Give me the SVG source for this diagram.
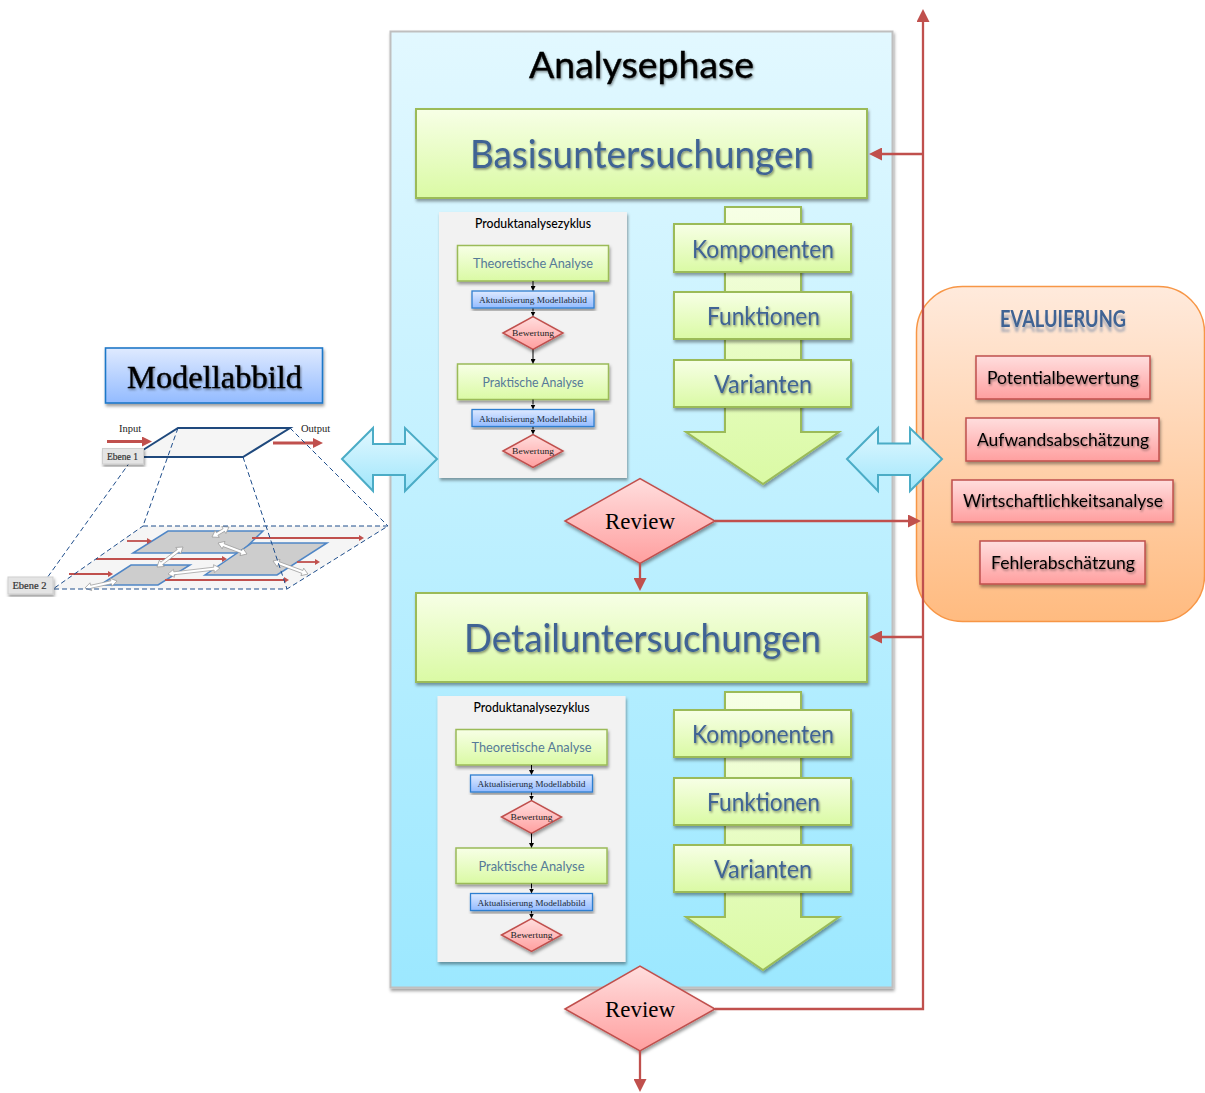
<svg xmlns="http://www.w3.org/2000/svg" xmlns:xlink="http://www.w3.org/1999/xlink" width="1205" height="1093" viewBox="0 0 1205 1093">
<defs>
<linearGradient id="gPanel" x1="0" y1="0" x2="0" y2="1"><stop offset="0" stop-color="#e2f8ff"/><stop offset="1" stop-color="#9ce8ff"/></linearGradient>
<linearGradient id="gGreen" x1="0" y1="0" x2="0" y2="1"><stop offset="0" stop-color="#f7ffe6"/><stop offset="1" stop-color="#dafaa4"/></linearGradient>
<linearGradient id="gRed" x1="0" y1="0" x2="0" y2="1"><stop offset="0" stop-color="#ffdede"/><stop offset="1" stop-color="#ff9f9f"/></linearGradient>
<linearGradient id="gBlue" x1="0" y1="0" x2="0" y2="1"><stop offset="0" stop-color="#dfeaff"/><stop offset="1" stop-color="#93bbff"/></linearGradient>
<linearGradient id="gOrange" x1="0" y1="0" x2="0" y2="1"><stop offset="0" stop-color="#ffeadc"/><stop offset="1" stop-color="#ffbb80"/></linearGradient>
<linearGradient id="gCyan" x1="0" y1="0" x2="0" y2="1"><stop offset="0" stop-color="#e2f8ff"/><stop offset="1" stop-color="#a0e6fb"/></linearGradient>
<filter id="sh" x="-10%" y="-10%" width="120%" height="125%"><feDropShadow dx="1" dy="2.5" stdDeviation="1.8" flood-color="#000" flood-opacity="0.38"/></filter>
<filter id="ts" x="-5%" y="-20%" width="110%" height="150%"><feDropShadow dx="1" dy="1.5" stdDeviation="1" flood-color="#000" flood-opacity="0.45"/></filter>
<filter id="refl" x="-5%" y="-20%" width="110%" height="170%"><feDropShadow dx="0" dy="5" stdDeviation="1.2" flood-color="#3f6494" flood-opacity="0.4"/></filter>
<marker id="ar" markerUnits="userSpaceOnUse" markerWidth="13" markerHeight="13" viewBox="0 0 13 13" refX="1" refY="6.500" orient="auto"><path d="M0 0L13 6.500L0 13Z" fill="#c0504d"/></marker>
<marker id="arb" markerUnits="userSpaceOnUse" markerWidth="5" markerHeight="5" viewBox="0 0 5 5" refX="0" refY="2.500" orient="auto"><path d="M0 0L5 2.500L0 5Z" fill="#000"/></marker>
<marker id="ars" markerUnits="userSpaceOnUse" markerWidth="5" markerHeight="6" viewBox="0 0 5 6" refX="0" refY="3" orient="auto"><path d="M0 0L5 3L0 6Z" fill="#c0504d"/></marker>
<marker id="arm" markerUnits="userSpaceOnUse" markerWidth="10" markerHeight="10" viewBox="0 0 10 10" refX="0" refY="5" orient="auto"><path d="M0 0L10 5L0 10Z" fill="#c0504d"/></marker>
</defs>
<style>
.green{fill:url(#gGreen);stroke:#9bbb59;stroke-width:2;filter:url(#sh)}
.greenS{fill:url(#gGreen);stroke:#9bbb59;stroke-width:1.500;filter:url(#sh)}
.red{fill:url(#gRed);stroke:#c0504d;stroke-width:1.500;filter:url(#sh)}
.blue{fill:url(#gBlue);stroke:#2f7fd0;stroke-width:1.300;filter:url(#sh)}
.cyan{fill:url(#gCyan);stroke:#4bacc6;stroke-width:2}
.card{fill:#f2f2f2;filter:url(#sh)}
.t{font-family:"Lato","Carlito","Liberation Sans",sans-serif;text-anchor:middle}
.s{font-family:"Liberation Serif","Noto Serif",serif;text-anchor:middle}
.bl{fill:#3f6494;filter:url(#ts)}
.k{fill:#000;filter:url(#ts)}
.big{font-size:39px}
.mid{font-size:24.500px}
.sm{font-size:13.500px;fill:#567a98}
.hd{font-size:12.500px;fill:#000;font-weight:500}
.ak{font-size:9px;fill:#1a2a3a}
.bw{font-size:9px;fill:#222}
.ev{font-size:18px}
.rv{font-size:23px;fill:#000}
.con{fill:none;stroke:#c0504d;stroke-width:2.300}
.cb{fill:none;stroke:#000;stroke-width:1}
.dash{fill:none;stroke:#1f4e8c;stroke-width:1;stroke-dasharray:5 3}
.pl{fill:none;stroke:#1f497d;stroke-width:2}
.quad{fill:#cdcdcd;stroke:#4f86c6;stroke-width:1.500}
.wa{fill:#fff;stroke:#9a9a9a;stroke-width:.7}
.rl{fill:none;stroke:#c0504d;stroke-width:1.800}
.tag{fill:#e4e4e4;stroke:#cfcfcf;stroke-width:1;filter:url(#sh)}
</style>

<g id="evaluierung-bg"><rect x="916.500" y="286.500" width="288" height="335" rx="46" fill="url(#gOrange)" stroke="#f79646" stroke-width="1.500"/></g>

<g id="analysephase">
<rect x="390.500" y="31.500" width="502" height="956" fill="url(#gPanel)" stroke="#bfbfbf" stroke-width="2" filter="url(#sh)"/>
<text class="t k" x="641.500" y="78" font-size="37" stroke="#000" stroke-width=".4" textLength="225" lengthAdjust="spacingAndGlyphs">Analysephase</text>
</g>

<g id="basisuntersuchungen"><rect class="green" x="416" y="109" width="451" height="89"/><text class="t bl big" x="642" y="168" textLength="344" lengthAdjust="spacingAndGlyphs">Basisuntersuchungen</text></g>

<g id="zyklus-1">
<rect class="card" x="439" y="212" width="188" height="266"/>
<text class="t hd" x="533" y="228" textLength="116" lengthAdjust="spacingAndGlyphs">Produktanalysezyklus</text>
<rect class="greenS" x="457.500" y="245.500" width="151" height="35.500"/><text class="t sm" x="533" y="268" textLength="120" lengthAdjust="spacingAndGlyphs">Theoretische Analyse</text>
<rect class="blue" x="472" y="291" width="122" height="17"/><text class="s ak" x="533" y="303" textLength="108" lengthAdjust="spacingAndGlyphs">Aktualisierung Modellabbild</text>
<path class="red" d="M503 333L533 316.500L563 333L533 349.500Z"/><text class="s bw" x="533" y="336" textLength="42" lengthAdjust="spacingAndGlyphs">Bewertung</text>
<rect class="greenS" x="457.500" y="364" width="151" height="35.500"/><text class="t sm" x="533" y="387" textLength="101" lengthAdjust="spacingAndGlyphs">Praktische Analyse</text>
<rect class="blue" x="472" y="409.500" width="122" height="17"/><text class="s ak" x="533" y="421.500" textLength="108" lengthAdjust="spacingAndGlyphs">Aktualisierung Modellabbild</text>
<path class="red" d="M503 451L533 434.500L563 451L533 467.500Z"/><text class="s bw" x="533" y="454" textLength="42" lengthAdjust="spacingAndGlyphs">Bewertung</text>
</g>

<g id="zyklus-2">
<rect class="card" x="437.500" y="696" width="188" height="266"/>
<text class="t hd" x="531.500" y="712" textLength="116" lengthAdjust="spacingAndGlyphs">Produktanalysezyklus</text>
<rect class="greenS" x="456" y="729.500" width="151" height="35.500"/><text class="t sm" x="531.500" y="752" textLength="120" lengthAdjust="spacingAndGlyphs">Theoretische Analyse</text>
<rect class="blue" x="470.500" y="775" width="122" height="17"/><text class="s ak" x="531.500" y="787" textLength="108" lengthAdjust="spacingAndGlyphs">Aktualisierung Modellabbild</text>
<path class="red" d="M501.500 817L531.500 800.500L561.500 817L531.500 833.500Z"/><text class="s bw" x="531.500" y="820" textLength="42" lengthAdjust="spacingAndGlyphs">Bewertung</text>
<rect class="greenS" x="456" y="848" width="151" height="35.500"/><text class="t sm" x="531.500" y="871" textLength="106" lengthAdjust="spacingAndGlyphs">Praktische Analyse</text>
<rect class="blue" x="470.500" y="893.500" width="122" height="17"/><text class="s ak" x="531.500" y="905.500" textLength="108" lengthAdjust="spacingAndGlyphs">Aktualisierung Modellabbild</text>
<path class="red" d="M501.500 935L531.500 918.500L561.500 935L531.500 951.500Z"/><text class="s bw" x="531.500" y="938" textLength="42" lengthAdjust="spacingAndGlyphs">Bewertung</text>
</g>

<g id="pfeil-1"><path class="green" d="M725 207H801V432H839L763 484L686 432H725Z"/></g>
<g id="komponenten-1"><rect class="green" x="674" y="224" width="177" height="48"/><text class="t bl mid" x="763" y="258" textLength="142" lengthAdjust="spacingAndGlyphs">Komponenten</text></g>
<g id="funktionen-1"><rect class="green" x="674" y="292" width="177" height="47"/><text class="t bl mid" x="763.500" y="325" textLength="113" lengthAdjust="spacingAndGlyphs">Funktionen</text></g>
<g id="varianten-1"><rect class="green" x="674" y="360" width="177" height="47"/><text class="t bl mid" x="763" y="393" textLength="98" lengthAdjust="spacingAndGlyphs">Varianten</text></g>

<g id="detailuntersuchungen"><rect class="green" x="416" y="593" width="451" height="89"/><text class="t bl big" x="642.500" y="652" textLength="357" lengthAdjust="spacingAndGlyphs">Detailuntersuchungen</text></g>

<g id="pfeil-2"><path class="green" d="M725 692H801V917H839L763 970L686 917H725Z"/></g>
<g id="komponenten-2"><rect class="green" x="674" y="710" width="177" height="47"/><text class="t bl mid" x="763" y="743" textLength="142" lengthAdjust="spacingAndGlyphs">Komponenten</text></g>
<g id="funktionen-2"><rect class="green" x="674" y="778" width="177" height="47"/><text class="t bl mid" x="763.500" y="811" textLength="113" lengthAdjust="spacingAndGlyphs">Funktionen</text></g>
<g id="varianten-2"><rect class="green" x="674" y="845" width="177" height="47"/><text class="t bl mid" x="763" y="878" textLength="98" lengthAdjust="spacingAndGlyphs">Varianten</text></g>

<g id="review-1"><path class="red" d="M565 521L640 478.500L715 521L640 563.500Z"/><text class="s rv" x="640" y="529" textLength="70" lengthAdjust="spacingAndGlyphs">Review</text></g>
<g id="review-2"><path class="red" d="M565 1009L640 966L715 1009L640 1051Z"/><text class="s rv" x="640" y="1017" textLength="70" lengthAdjust="spacingAndGlyphs">Review</text></g>

<g id="connectors">
<path class="con" d="M715 1009H923V21" marker-end="url(#ar)"/>
<path class="con" d="M923 154H881" marker-end="url(#ar)"/>
<path class="con" d="M923 637L881 637" marker-end="url(#ar)"/>
<path class="con" d="M715 521H909" marker-end="url(#ar)"/>
<path class="con" d="M640 563V579" marker-end="url(#ar)"/>
<path class="con" d="M640 1051V1080" marker-end="url(#ar)"/>
<path class="cb" d="M533 281V286" marker-end="url(#arb)"/>
<path class="cb" d="M533 308.500V311.500" marker-end="url(#arb)"/>
<path class="cb" d="M533 349.500V359" marker-end="url(#arb)"/>
<path class="cb" d="M533 399.500V404.500" marker-end="url(#arb)"/>
<path class="cb" d="M533 427V429.500" marker-end="url(#arb)"/>
<path class="cb" d="M531.500 765V770" marker-end="url(#arb)"/>
<path class="cb" d="M531.500 792.500V795.500" marker-end="url(#arb)"/>
<path class="cb" d="M531.500 833.500V843" marker-end="url(#arb)"/>
<path class="cb" d="M531.500 883.500V888.500" marker-end="url(#arb)"/>
<path class="cb" d="M531.500 911V913.500" marker-end="url(#arb)"/>
</g>

<g id="doppelpfeil-links"><path class="cyan" d="M342 459L373 428V444H405V428L437 459L405 491V475H373V491Z"/></g>
<g id="doppelpfeil-rechts"><path class="cyan" d="M847 459L878 428V443.500H910V428L942 459L910 491V475H878V491Z"/></g>

<g id="evaluierung-titel"><text class="t" x="1063" y="327" font-size="22" font-weight="bold" fill="#3f6494" filter="url(#refl)" textLength="126" lengthAdjust="spacingAndGlyphs">EVALUIERUNG</text></g>
<g id="potentialbewertung"><rect class="red" x="976" y="356" width="174" height="43"/><text class="t k ev" x="1063" y="384" textLength="152" lengthAdjust="spacingAndGlyphs">Potentialbewertung</text></g>
<g id="aufwandsabschaetzung"><rect class="red" x="966" y="418" width="193" height="43"/><text class="t k ev" x="1063" y="446" textLength="172" lengthAdjust="spacingAndGlyphs">Aufwandsabschätzung</text></g>
<g id="wirtschaftlichkeitsanalyse"><rect class="red" x="952" y="480" width="221" height="42"/><text class="t k ev" x="1063" y="507" textLength="200" lengthAdjust="spacingAndGlyphs">Wirtschaftlichkeitsanalyse</text></g>
<g id="fehlerabschaetzung"><rect class="red" x="980" y="541" width="165" height="43"/><text class="t k ev" x="1063" y="569" textLength="144" lengthAdjust="spacingAndGlyphs">Fehlerabschätzung</text></g>

<g id="modellabbild"><rect x="105.500" y="348" width="217" height="55" fill="url(#gBlue)" stroke="#1f78c8" stroke-width="1.600" filter="url(#sh)"/><text class="s k" x="214.500" y="388" font-size="32" stroke="#000" stroke-width=".4" textLength="175" lengthAdjust="spacingAndGlyphs">Modellabbild</text></g>

<g id="ebene-1">
<path d="M143 450L178 428H290L243 457H143Z" fill="#f5f5f5" stroke="none"/>
<path class="pl" d="M143 450L178 428H290L243 457H143"/>
<path d="M107 441.500H142" class="rl" style="stroke-width:3" marker-end="url(#arm)"/>
<path d="M273 443H313" class="rl" style="stroke-width:3" marker-end="url(#arm)"/>
<text class="s" x="130" y="432" font-size="10.500" fill="#222">Input</text>
<text class="s" x="315.500" y="432" font-size="10.500" fill="#222">Output</text>
</g>

<g id="ebene-2">
<path d="M143 526H388L287 589H53Z" fill="#f5f5f5"/>
<path class="quad" d="M168 531H263L240 553H133Z"/>
<path class="quad" d="M252 543H327L277 575H205Z"/>
<path class="quad" d="M131 565H190L158 585H100Z"/>
<path class="rl" d="M127 541H147" marker-end="url(#ars)"/>
<path class="rl" d="M252 538H359" marker-end="url(#ars)"/>
<path class="rl" d="M96 559H222" marker-end="url(#ars)"/>
<path class="rl" d="M297 562H315" marker-end="url(#ars)"/>
<path class="rl" d="M69 574H108" marker-end="url(#ars)"/>
<path class="rl" d="M165 580H284" marker-end="url(#ars)"/>
<path class="wa" transform="translate(212 537) rotate(-30.500)" d="M0 0L6 -4V-1.500H13.700V-4L19.700 0L13.700 4V1.500H6V4Z"/>
<path class="wa" transform="translate(218 543) rotate(20.800)" d="M0 0L6 -4V-1.500H25V-4L31 0L25 4V1.500H6V4Z"/>
<path class="wa" transform="translate(157 567) rotate(-37.600)" d="M0 0L6 -4V-1.500H26.800V-4L32.800 0L26.800 4V1.500H6V4Z"/>
<path class="wa" transform="translate(168 574) rotate(-6.600)" d="M0 0L6 -4V-1.500H46.300V-4L52.300 0L46.300 4V1.500H6V4Z"/>
<path class="wa" transform="translate(273 561) rotate(20.400)" d="M0 0L6 -4V-1.500H31.300V-4L37.300 0L31.300 4V1.500H6V4Z"/>
<path class="wa" transform="translate(85 588) rotate(-12.300)" d="M0 0L6 -4V-1.500H26.800V-4L32.800 0L26.800 4V1.500H6V4Z"/>
<path class="dash" d="M143 526H388L287 589H53Z"/>
<path class="dash" d="M178 428L143 526M290 428L388 526M243 457L287 589M130 462L47 578"/>
</g>

<g id="label-ebene-1"><rect class="tag" x="102.500" y="448.500" width="41" height="15.500"/><text class="s" x="122.500" y="459.500" font-size="9.500" fill="#333" stroke="#333" stroke-width=".2">Ebene 1</text></g>
<g id="label-ebene-2"><rect class="tag" x="8" y="577" width="45" height="17"/><text class="s" x="29.500" y="589" font-size="10.500" fill="#333" stroke="#333" stroke-width=".2">Ebene 2</text></g>
</svg>
